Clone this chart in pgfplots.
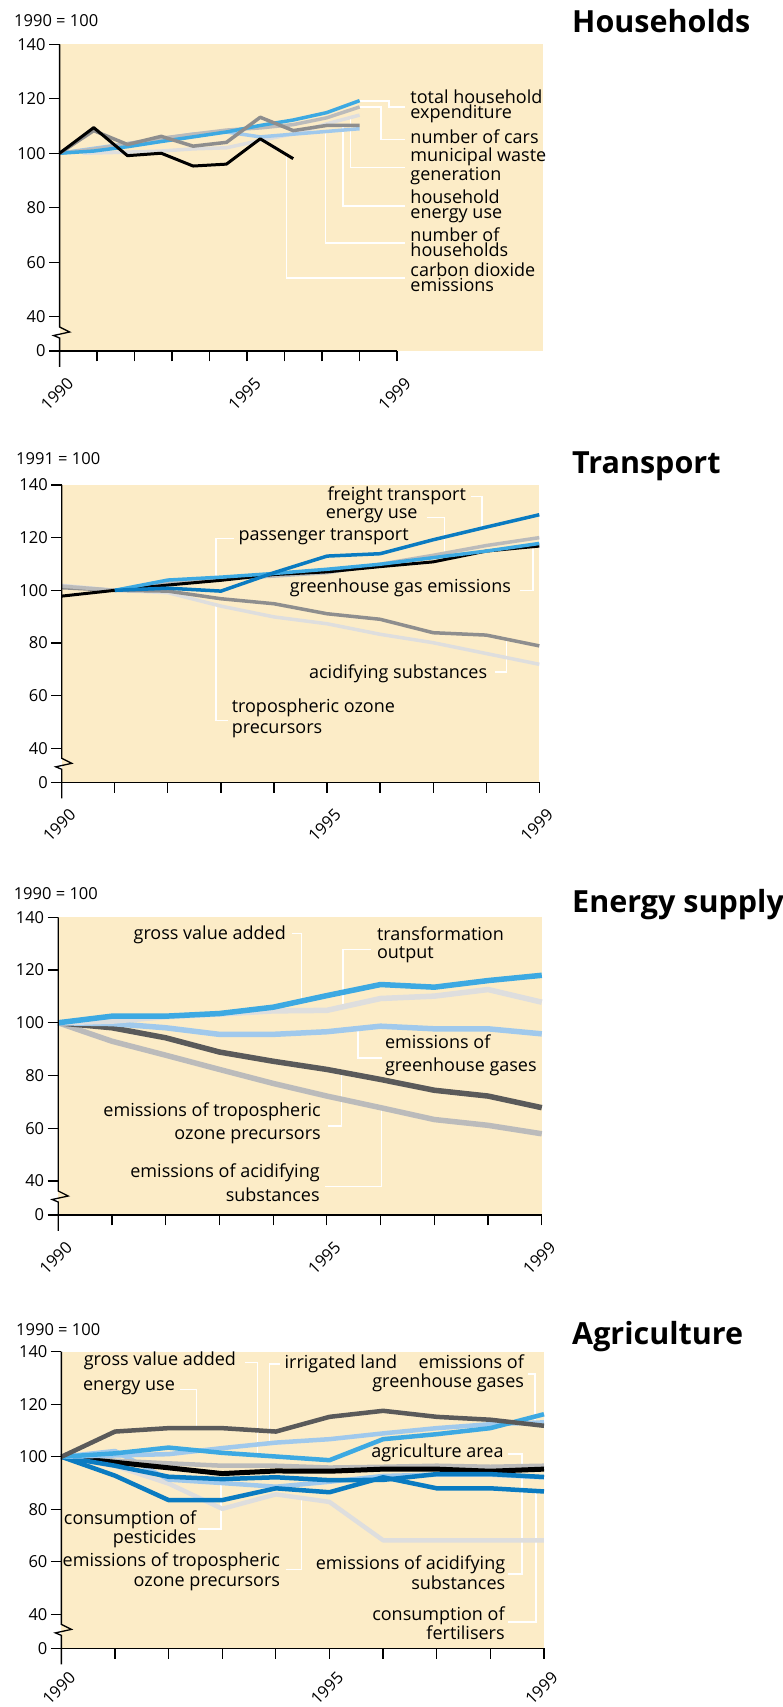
\documentclass[border=0pt]{standalone}
\usepackage{fontspec}
\setmainfont{Open Sans}
\usepackage{pgfplots}
\pgfplotsset{compat=1.18}

\definecolor{bg}{HTML}{FCECC7}
\definecolor{bblue}{HTML}{3DA9E2}
\definecolor{mblue}{HTML}{0A7BC1}
\definecolor{lblue}{HTML}{A0C9EC}
\definecolor{dgray}{HTML}{5A5A5A}
\definecolor{mgray}{HTML}{8E8E8E}
\definecolor{lgray}{HTML}{BBBBBB}
\definecolor{vlgray}{HTML}{DEDEDE}

\newcommand\tickfont{\fontsize{16.5}{18}\selectfont}
\newcommand\titlefont{\fontsize{30.5}{33}\selectfont\bfseries}

\tikzset{leader/.style={white, line width=1.5pt},
  lbl/.style={inner sep=0pt, font=\fontsize{18}{#1}\selectfont},
  lbl/.default=20,
  brk/.style={line width=1.3pt}}

\pgfplotsset{
  panel/.style={
    scale only axis, clip=false, anchor=south west,
    xmin=1990, xmax=1999, ymax=140,
    axis x line*=bottom, axis y line*=left,
    axis line style={draw=none},
    axis background/.style={fill=bg},
    tick align=outside, major tick length=10.5pt,
    tick style={black, line width=1.2pt},
    xtick={1990,...,1999},
    xticklabels={1990,,,,,1995,,,,1999},
    xticklabel style={font=\tickfont, inner sep=0pt, xshift=11pt, yshift=#1,
      rotate=45, anchor=east},
    yticklabel style={font=\tickfont},
    no markers,
    every axis plot/.append style={line join=round},
  },
  panel/.default=-19pt,
}
% axis lines with the break between 40 and 0
\newcommand\axlines[1]{%
  \draw[brk] (1990,#1) -- (1999,#1);
  \draw[brk] (1990,140) -- (1990,36.2) -- ++(10pt,-5pt) -- ++(-16pt,-3.5pt) -- ++(6pt,-2.5pt) -- (1990,#1) -- ++(0pt,-16pt);
}

\begin{document}
\begin{tikzpicture}
\path[use as bounding box] (0,0) rectangle (782pt,1707pt);

% ---------------- Households
\node[anchor=base west, font=\tickfont, inner sep=0] at (14pt,1680.5pt) {1990 = 100};
\node[anchor=base west, font=\titlefont, inner sep=0] at (572pt,1674.2pt) {Households};
\begin{axis}[panel, at={(59.6pt,1356pt)}, width=483.4pt, height=306.7pt,
  xmax=2002.89, ymin=27.4,
  ytick={27.4,40,60,80,100,120,140}, yticklabels={0,40,60,80,100,120,140},
  every axis plot/.append style={line width=3.5pt}]
\draw[leader] (1998.01,119.1) -- (1998.78,119.1) -- (1998.78,117.0) -- (1999.21,117.0);
\draw[leader] (1998.01,116.9) -- (1998.57,116.9) -- (1998.57,105.1) -- (1999.21,105.1);
\draw[leader] (1997.76,113.0) -- (1997.76,94.8) -- (1999.21,94.8);
\draw[leader] (1997.56,110.2) -- (1997.56,80.6) -- (1999.21,80.6);
\draw[leader] (1997.09,108.0) -- (1997.09,67.1) -- (1999.21,67.1);
\draw[leader] (1996.05,99.0) -- (1996.05,54.2) -- (1999.21,54.2);
% municipal waste generation
\addplot[vlgray] coordinates {(1990.62,100) (1991.81,100.4) (1992.71,100.8) (1993.56,101.6) (1994.45,102) (1995.35,104.7) (1996.23,107.1) (1997.12,110.8) (1998.0,114)};
% number of households
\addplot[lblue] coordinates {(1990,100) (1990.91,101.8) (1991.81,103.5) (1992.71,105.3) (1993.56,107) (1994.45,107.8) (1995.35,106) (1996.23,107) (1997.12,108) (1998.0,109)};
% number of cars
\addplot[lgray] coordinates {(1990,100) (1990.91,101.5) (1991.81,103.5) (1992.71,105.5) (1993.56,107) (1994.45,108.5) (1995.35,109.3) (1996.23,110.5) (1997.12,113) (1998.0,117)};
% total household expenditure
\addplot[bblue] coordinates {(1990,100) (1990.91,100.8) (1991.81,102.4) (1992.71,104.3) (1993.56,106) (1994.45,107.8) (1995.35,110.2) (1996.23,112.2) (1997.12,114.9) (1998.0,119.3)};
% household energy use
\addplot[mgray] coordinates {(1990,100) (1990.91,108.3) (1991.81,103.2) (1992.71,106.2) (1993.56,102.6) (1994.45,104) (1995.35,113.2) (1996.23,108.3) (1997.12,110.2) (1998.0,110.2)};
% carbon dioxide emissions
\addplot[black, line width=3pt] coordinates {(1990,100) (1990.91,109.4) (1991.81,99.1) (1992.71,100) (1993.56,95.3) (1994.45,96) (1995.35,105.3) (1996.23,98)};
\axlines{27.4}
\node[lbl=15.2, anchor=west, align=left] at (1999.35,117.1) {total household\\expenditure};
\node[lbl=15.2, anchor=west, align=left] at (1999.35,106.2) {number of cars};
\node[lbl=15.2, anchor=west, align=left] at (1999.35,95.2) {municipal waste\\generation};
\node[lbl=15.2, anchor=west, align=left] at (1999.35,80.6) {household\\energy use};
\node[lbl=15.2, anchor=west, align=left] at (1999.35,67.4) {number of\\households};
\node[lbl=15.2, anchor=west, align=left] at (1999.35,54.4) {carbon dioxide\\emissions};
\end{axis}

% ---------------- Transport
\node[anchor=base west, font=\tickfont, inner sep=0] at (16pt,1242.7pt) {1991 = 100};
\node[anchor=base west, font=\titlefont, inner sep=0] at (572pt,1233pt) {Transport};
\begin{axis}[panel, at={(61.8pt,924.7pt)}, width=477.5pt, height=297.3pt,
  ymin=27.1,
  ytick={27.1,40,60,80,100,120,140}, yticklabels={0,40,60,80,100,120,140},
  every axis plot/.append style={line width=3.5pt}]
\draw[leader] (1997.72,135.6) -- (1997.92,135.6) -- (1997.92,124.1);
\draw[leader] (1996.88,127.7) -- (1997.21,127.7) -- (1997.21,113.7);
\draw[leader] (1993.24,119.6) -- (1992.91,119.6) -- (1992.91,105);
\draw[leader] (1998.63,100) -- (1998.88,100) -- (1998.88,115.5);
\draw[leader] (1998.16,68.9) -- (1998.38,68.9) -- (1998.38,81.4);
\draw[leader] (1993.13,50.6) -- (1992.91,50.6) -- (1992.91,94.7);
% tropospheric ozone precursors
\addplot[vlgray] coordinates {(1990,101.9) (1991,100) (1992,99.1) (1993,94) (1994,89.9) (1995,87.3) (1996,83.3) (1997,80.1) (1998,76) (1999,71.9)};
% acidifying substances
\addplot[mgray] coordinates {(1990,101) (1991,100) (1992,99.7) (1993,96.8) (1994,94.9) (1995,91.1) (1996,89) (1997,83.9) (1998,83) (1999,78.9)};
% energy use
\addplot[lgray] coordinates {(1990,101.6) (1991,100) (1992,102.9) (1993,104.4) (1994,105.4) (1995,106.7) (1996,109.9) (1997,113.3) (1998,117) (1999,120)};
% greenhouse gas emissions
\addplot[black, line width=3pt] coordinates {(1990,97.8) (1991,100) (1992,102) (1993,103.8) (1994,106) (1995,107) (1996,109) (1997,110.8) (1998,114.9) (1999,116.8)};
% passenger transport
\addplot[bblue] coordinates {(1991,100) (1992,103.9) (1993,105) (1994,106.4) (1995,108) (1996,109.9) (1997,112.4) (1998,114.9) (1999,117.8)};
% freight transport
\addplot[mblue] coordinates {(1991,100) (1992,100.8) (1993,99.7) (1994,106.7) (1995,113) (1996,113.9) (1997,119.2) (1998,124) (1999,128.7)};
\axlines{27.1}
\node[lbl, anchor=east] at (1997.62,135.9) {freight transport};
\node[lbl, anchor=east] at (1996.71,128.2) {energy use};
\node[lbl, anchor=west] at (1993.33,120.3) {passenger transport};
\node[lbl, anchor=east] at (1998.47,100.8) {greenhouse gas emissions};
\node[lbl, anchor=east] at (1998.02,68.2) {acidifying substances};
\node[lbl=21, anchor=west, align=left] at (1993.2,51.2) {tropospheric ozone\\precursors};
\end{axis}

% ---------------- Energy supply
\node[anchor=base west, font=\tickfont, inner sep=0] at (13.6pt,807pt) {1990 = 100};
\node[anchor=base west, font=\titlefont, inner sep=0] at (572pt,794.3pt) {Energy supply};
\begin{axis}[panel, at={(58.2pt,492pt)}, width=483.6pt, height=297.7pt,
  ymin=27.1,
  ytick={27.1,40,60,80,100,120,140}, yticklabels={0,40,60,80,100,120,140},
  every axis plot/.append style={line width=5.5pt}]
\draw[leader] (1994.36,133.8) -- (1994.53,133.8) -- (1994.53,108.6);
\draw[leader] (1995.83,127.8) -- (1995.3,127.8) -- (1995.3,105.7);
\draw[leader] (1995.58,98.7) -- (1995.58,86.7) -- (1996.02,86.7);
\draw[leader] (1995.03,60.8) -- (1995.27,60.8) -- (1995.27,81.6);
\draw[leader] (1994.97,37.9) -- (1996.02,37.9) -- (1996.02,67.3);
% emissions of acidifying substances
\addplot[lgray] coordinates {(1990,100) (1991,93) (1992,87.7) (1993,82.3) (1994,77) (1995,72.2) (1996,67.8) (1997,63.3) (1998,61.1) (1999,57.9)};
% emissions of tropospheric ozone precursors
\addplot[dgray] coordinates {(1990,100) (1991,98.1) (1992,94.3) (1993,88.9) (1994,85.4) (1995,82.3) (1996,78.5) (1997,74.4) (1998,72.2) (1999,67.8)};
% emissions of greenhouse gases
\addplot[lblue] coordinates {(1990,100) (1991,99.7) (1992,98.1) (1993,95.6) (1994,95.6) (1995,96.6) (1996,98.7) (1997,97.7) (1998,97.7) (1999,95.8)};
% gross value added
\addplot[vlgray] coordinates {(1990,100) (1991,100.6) (1992,102.3) (1993,103.3) (1994,104.5) (1995,104.7) (1996,109.2) (1997,110.1) (1998,112.6) (1999,107.8)};
% transformation output
\addplot[bblue] coordinates {(1990,100) (1991,102.5) (1992,102.5) (1993,103.5) (1994,105.9) (1995,110.3) (1996,114.5) (1997,113.5) (1998,116) (1999,118)};
\axlines{27.1}
\node[lbl, anchor=east] at (1994.24,133.3) {gross value added};
\node[lbl=17.5, anchor=west, align=left] at (1995.93,129.5) {transformation\\output};
\node[lbl=23.3, anchor=west, align=left] at (1996.08,87.8) {emissions of\\greenhouse gases};
\node[lbl=23.3, anchor=east, align=right] at (1994.89,62) {emissions of tropospheric\\ozone precursors};
\node[lbl=23.3, anchor=east, align=right] at (1994.87,39.4) {emissions of acidifying\\substances};
\end{axis}

% ---------------- Agriculture
\node[anchor=base west, font=\tickfont, inner sep=0] at (16pt,371.5pt) {1990 = 100};
\node[anchor=base west, font=\titlefont, inner sep=0] at (572pt,362pt) {Agriculture};
\begin{axis}[panel=-16pt, at={(61.4pt,58.7pt)}, width=482.6pt, height=296.6pt,
  ymin=27.1,
  ytick={27.1,40,60,80,100,120,140}, yticklabels={0,40,60,80,100,120,140},
  every axis plot/.append style={line width=4.5pt}]
\draw[leader] (1993.42,135.8) -- (1993.66,135.8) -- (1993.66,100);
\draw[leader] (1992.22,125.7) -- (1992.52,125.7) -- (1992.52,110.9);
\draw[leader] (1994.08,135.4) -- (1993.88,135.4) -- (1993.88,104.8);
\draw[leader] (1998.7,131.6) -- (1998.83,131.6) -- (1998.83,111.8);
\draw[leader] (1998.33,101) -- (1998.59,101) -- (1998.59,97);
\draw[leader] (1998.33,55.4) -- (1998.59,55.4) -- (1998.59,92.2);
\draw[leader] (1998.33,37.1) -- (1998.85,37.1) -- (1998.85,86.5);
\draw[leader] (1992.55,72.5) -- (1992.98,72.5) -- (1992.98,89.6);
\draw[leader] (1994.18,57) -- (1994.48,57) -- (1994.48,83.8);
% emissions of tropospheric ozone precursors
\addplot[vlgray] coordinates {(1990,100) (1991,96.5) (1992,89.8) (1993,80.2) (1994,85.7) (1995,82.8) (1996,68.2) (1997,68.2) (1998,68.2) (1999,68.2)};
% consumption of pesticides
\addplot[lblue] coordinates {(1990,100) (1991,102.2) (1992,91.3) (1993,90) (1994,88.6) (1995,90.5) (1996,92.7) (1997,93.2) (1998,93.2) (1999,92.2)};
% agriculture area
\addplot[lgray] coordinates {(1990,100) (1991,98.5) (1992,97.5) (1993,96.6) (1994,96.6) (1995,95.9) (1996,96.2) (1997,96.6) (1998,96.2) (1999,96.6)};
% black series
\addplot[black, line width=5pt] coordinates {(1990,100) (1991,97.9) (1992,95.8) (1993,93.6) (1994,94.6) (1995,94.5) (1996,95.3) (1997,95.3) (1998,94.5) (1999,95.3)};
% consumption of fertilisers
\addplot[mblue] coordinates {(1990,100) (1991,92.8) (1992,83.5) (1993,83.5) (1994,88) (1995,86.5) (1996,92.2) (1997,88) (1998,88) (1999,86.8)};
% emissions of acidifying substances
\addplot[mblue] coordinates {(1990,100) (1991,96.6) (1992,92.4) (1993,91.5) (1994,92.2) (1995,91.1) (1996,91.2) (1997,93.4) (1998,93.4) (1999,92.3)};
% irrigated land
\addplot[lblue] coordinates {(1990,100) (1991,100.5) (1992,101) (1993,103.3) (1994,105.4) (1995,106.7) (1996,108.9) (1997,110.9) (1998,112.4) (1999,113.1)};
% gross value added
\addplot[bblue] coordinates {(1990,100) (1991,101.3) (1992,103.5) (1993,101.5) (1994,100.1) (1995,98.7) (1996,106.7) (1997,108.6) (1998,110.9) (1999,116.2)};
% energy use / emissions of greenhouse gases
\addplot[dgray] coordinates {(1990,100) (1991,109.6) (1992,110.9) (1993,110.9) (1994,109.6) (1995,115.2) (1996,117.5) (1997,115.2) (1998,114.1) (1999,111.8)};
\axlines{27.1}
\node[lbl, anchor=east] at (1993.26,136.7) {gross value added};
\node[lbl, anchor=east] at (1992.12,126.2) {energy use};
\node[lbl, anchor=west] at (1994.16,135.4) {irrigated land};
\node[lbl=18.7, anchor=east, align=right] at (1998.63,131.8) {emissions of\\greenhouse gases};
\node[lbl, anchor=east] at (1998.25,101.6) {agriculture area};
\node[lbl=20, anchor=east, align=right] at (1998.28,55.9) {emissions of acidifying\\substances};
\node[lbl=19, anchor=east, align=right] at (1998.27,36.5) {consumption of\\fertilisers};
\node[lbl=19, anchor=east, align=right] at (1992.52,72.5) {consumption of\\pesticides};
\node[lbl=20, anchor=east, align=right] at (1994.08,56.1) {emissions of tropospheric\\ozone precursors};
\end{axis}
\end{tikzpicture}
\end{document}
